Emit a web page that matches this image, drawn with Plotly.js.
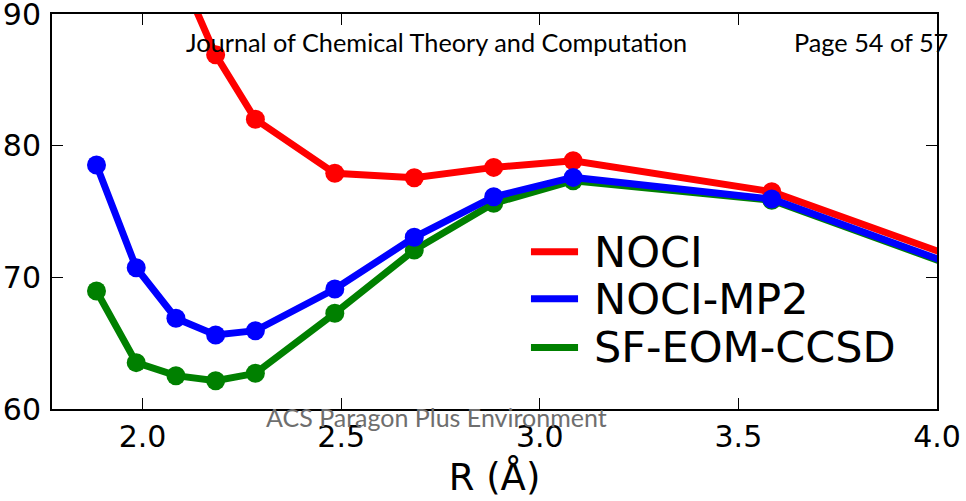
<!DOCTYPE html>
<html>
<head>
<meta charset="utf-8">
<script src="https://cdn.plot.ly/plotly-3.0.1.min.js"></script>
<style>
  html, body { margin: 0; padding: 0; background: #fff; }
  #chart { width: 966px; height: 501px; }
</style>
</head>
<body>
<div id="chart"></div>
<script>
// Bond distance R (Å)
const R = [1.884, 1.984, 2.084, 2.184, 2.284, 2.484, 2.684, 2.884, 3.084, 3.584, 4.084];
// Series values
const noci    = [110.0, 101.5, 93.8, 86.9, 82.0, 77.9, 77.56, 78.35, 78.85, 76.5, 71.1];
const nociMp2 = [78.53, 70.73, 66.89, 65.62, 65.95, 69.11, 73.04, 76.12, 77.59, 75.95, 70.5];
const sfEom   = [68.96, 63.52, 62.53, 62.15, 62.71, 67.27, 72.07, 75.62, 77.34, 75.85, 70.4];
const seriesNames = ["NOCI", "NOCI-MP2", "SF-EOM-CCSD"];
const seriesColors = ["#ff0000", "#0000ff", "#008000"];
const xTicks = [2.0, 2.5, 3.0, 3.5, 4.0];
const yTicks = [60, 70, 80, 90];

const mk = (y, i) => ({
  x: R, y: y, type: "scatter", mode: "lines+markers", name: seriesNames[i],
  line: {color: seriesColors[i], width: 7},
  marker: {color: seriesColors[i], size: 19},
  showlegend: false, cliponaxis: true
});
// draw order: NOCI, SF-EOM-CCSD, NOCI-MP2 (blue on top)
const data = [mk(noci, 0), mk(sfEom, 2), mk(nociMp2, 1)];

const legX0 = 0.5412, legX1 = 0.5944, legTX = 0.6105;
const legY = [0.398, 0.279, 0.156];
const shapes = seriesNames.map((n, i) => ({
  type: "line", xref: "paper", yref: "paper",
  x0: legX0, x1: legX1, y0: legY[i], y1: legY[i],
  line: {color: seriesColors[i], width: 7}
}));
const annotations = seriesNames.map((n, i) => ({
  text: n, xref: "paper", yref: "paper", x: legTX, y: legY[i],
  xanchor: "left", yanchor: "middle", showarrow: false,
  font: {family: "DejaVu Sans", size: 43, color: "#000"}
}));
annotations.push(
  {text: "Journal of Chemical Theory and Computation", xref: "paper", yref: "paper",
   x: (184 - 52) / 885, y: (409 - 42) / 395, xanchor: "left", yanchor: "middle", showarrow: false,
   font: {family: "Lato, Liberation Sans, sans-serif", size: 25.3, color: "#000"}},
  {text: "Page 54 of 57", xref: "paper", yref: "paper",
   x: (950 - 52) / 885, y: (409 - 42) / 395, xanchor: "right", yanchor: "middle", showarrow: false,
   font: {family: "Lato, Liberation Sans, sans-serif", size: 25.3, color: "#000"}},
  {text: "ACS Paragon Plus Environment", xref: "paper", yref: "paper",
   x: (264 - 52) / 885, y: (409 - 417) / 395, xanchor: "left", yanchor: "middle", showarrow: false,
   font: {family: "Lato, Liberation Sans, sans-serif", size: 25, color: "#6e6e6e"}}
);

const axisCommon = {
  showgrid: false, zeroline: false, showline: true, linecolor: "#000", linewidth: 2,
  mirror: "ticks", ticks: "inside", ticklen: 11, tickwidth: 1.3, tickcolor: "#000",
  ticklabeloverflow: "allow",
  tickfont: {family: "DejaVu Sans", size: 30, color: "#000"}
};

const layout = {
  width: 966, height: 501,
  margin: {l: 52, r: 29, t: 14, b: 92},
  paper_bgcolor: "#fff", plot_bgcolor: "#fff",
  showlegend: false,
  xaxis: Object.assign({}, axisCommon, {
    range: [1.772, 4.0], tickvals: xTicks, tickformat: ".1f",
    title: {text: "R (Å)", font: {family: "DejaVu Sans", size: 37, color: "#000"}, standoff: 11}
  }),
  yaxis: Object.assign({}, axisCommon, {
    range: [60, 90], tickvals: yTicks, tickformat: "d", ticklabelstandoff: 3
  }),
  shapes: shapes,
  annotations: annotations
};

Plotly.newPlot("chart", data, layout, {staticPlot: true, displayModeBar: false});
</script>
</body>
</html>
